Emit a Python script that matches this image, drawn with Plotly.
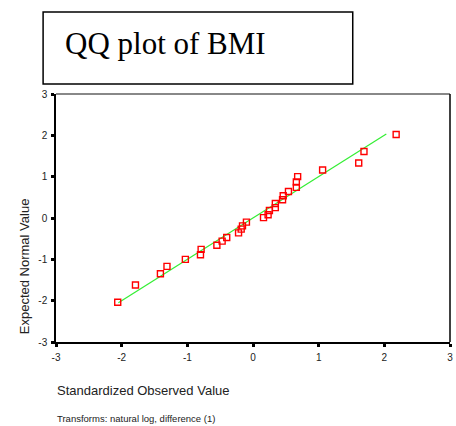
import plotly.graph_objects as go

# Data
observed = [-2.06, -1.79, -1.41, -1.31, -1.03, -0.80, -0.79, -0.55, -0.47, -0.40,
            -0.22, -0.18, -0.16, -0.10, 0.16, 0.23, 0.25, 0.34, 0.34, 0.45,
            0.46, 0.54, 0.66, 0.66, 0.68, 1.06, 1.61, 1.69, 2.18]
expected = [-2.04, -1.62, -1.35, -1.17, -1.00, -0.89, -0.76, -0.66, -0.56, -0.47,
            -0.36, -0.27, -0.19, -0.10, 0.01, 0.08, 0.18, 0.25, 0.35, 0.44,
            0.54, 0.64, 0.74, 0.87, 1.00, 1.16, 1.33, 1.61, 2.02]
line_x = [-2.05, 2.03]
line_y = [-2.05, 2.03]
tick_vals = [-3, -2, -1, 0, 1, 2, 3]
tick_text = ["-3", "-2", "-1", "0", "1", "2", "3"]

W, H = 456, 426
L, R, T, B = 56, 3, 94, 84
pw = W - L - R
ph = H - T - B

def px(x):
    return (x - L) / pw

def py(y):
    return (H - B - y) / ph

sans = "Liberation Sans, Arial, sans-serif"
serif = "Liberation Serif, Times New Roman, serif"

fig = go.Figure()
fig.add_trace(go.Scatter(x=line_x, y=line_y, mode="lines",
                         line=dict(color="#33ee33", width=1.2),
                         hoverinfo="skip", showlegend=False))
fig.add_trace(go.Scatter(x=observed, y=expected, mode="markers",
                         marker=dict(symbol="square-open", size=6,
                                     color="#ff0000", line=dict(width=1.4, color="#ff0000")),
                         showlegend=False))

axis_common = dict(range=[-3, 3], tickmode="array", tickvals=tick_vals, ticktext=tick_text,
                   showgrid=False, zeroline=False, showline=True, linecolor="black",
                   linewidth=1.5, ticks="outside", ticklen=3, tickwidth=3,
                   tickcolor="black", tickfont=dict(family=sans, size=10, color="#222"),
                   ticklabeloverflow="allow")
fig.update_xaxes(**axis_common, ticklabelstandoff=2)
fig.update_yaxes(**axis_common, ticklabelstandoff=2)

shapes = [
    # top border (gray) and right border (black)
    dict(type="line", xref="paper", yref="paper", x0=0, x1=1, y0=1, y1=1,
         line=dict(color="#888888", width=2)),
    dict(type="line", xref="paper", yref="paper", x0=1, x1=1, y0=0, y1=1,
         line=dict(color="black", width=1.5)),
    # title box
    dict(type="rect", xref="paper", yref="paper", x0=px(43), x1=px(355),
         y0=py(84), y1=py(12), line=dict(color="black", width=1.5),
         fillcolor="rgba(0,0,0,0)"),
]

annotations = [
    dict(text="QQ plot of BMI", xref="paper", yref="paper", x=px(63), y=py(43),
         xanchor="left", yanchor="middle", showarrow=False,
         font=dict(family=serif, size=31, color="black")),
    dict(text="Expected Normal Value", xref="paper", yref="paper", x=px(24), y=py(266),
         xanchor="center", yanchor="middle", textangle=-90, showarrow=False,
         font=dict(family=sans, size=13, color="#222")),
    dict(text="Standardized Observed Value", xref="paper", yref="paper", x=px(55), y=py(390),
         xanchor="left", yanchor="middle", showarrow=False,
         font=dict(family=sans, size=13, color="#222")),
    dict(text="Transforms: natural log, difference (1)", xref="paper", yref="paper",
         x=px(55), y=py(418), xanchor="left", yanchor="middle", showarrow=False,
         font=dict(family=sans, size=9.5, color="#222")),
]

fig.update_layout(width=W, height=H, margin=dict(l=L, r=R, t=T, b=B),
                  paper_bgcolor="white", plot_bgcolor="white",
                  shapes=shapes, annotations=annotations, showlegend=False)

fig.write_html("out.html", config={"displayModeBar": False},
               post_script="document.body.style.margin='0';document.body.style.overflow='hidden';")
